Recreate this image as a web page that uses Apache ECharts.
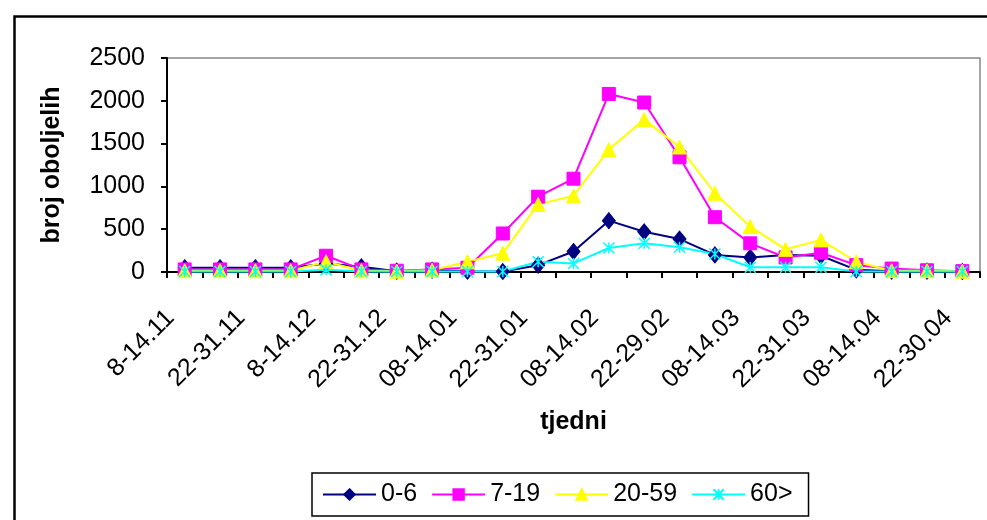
<!DOCTYPE html>
<html>
<head>
<meta charset="utf-8">
<script src="https://cdn.jsdelivr.net/npm/echarts@6/dist/echarts.min.js"></script>
<style>
html,body{margin:0;padding:0;background:#fff;}
#chart{width:987px;height:520px;}
</style>
</head>
<body>
<div id="chart"></div>
<script>
var weeks = ["8-14.11","15-21.11","22-31.11","1-7.12","8-14.12","15-21.12","22-31.12","01-07.01","08-14.01","15-21.01","22-31.01","01-07.02","08-14.02","15-21.02","22-29.02","01-07.03","08-14.03","15-21.03","22-31.03","01-07.04","08-14.04","15-21.04","22-30.04"];
var age0_6   = [50,50,50,50,100,60,10,20,10,5,80,240,600,470,385,200,170,200,190,25,10,10,5];
var age7_19  = [30,30,30,30,190,30,15,30,50,450,880,1090,2080,1980,1340,640,335,170,225,80,40,20,10];
var age20_59 = [15,15,15,15,120,15,10,20,120,220,790,890,1430,1780,1460,920,530,265,375,120,15,15,10];
var age60    = [5,5,5,5,25,5,5,5,5,5,120,100,280,335,290,210,55,55,55,5,5,5,5];
var seriesNames = ["0-6","7-19","20-59","60>"];
var yTicks = {min:0, max:2500, interval:500};

var FONT = 'Liberation Sans, Arial, sans-serif';
var chart = echarts.init(document.getElementById('chart'), null, {renderer:'canvas'});
var starPath = 'path://M0,0L10,10M10,0L0,10M5,0L5,10';

function mkSeries(name, data, color, symbol, size, extra) {
  var s = {
    name: name, type: 'line', data: data,
    symbol: symbol, symbolSize: size, showSymbol: true,
    lineStyle: {color: color, width: 2},
    itemStyle: {color: color, borderColor: color, borderWidth: 1},
    animation: false, z: 3
  };
  if (extra) Object.assign(s, extra);
  return s;
}

var option = {
  backgroundColor: '#fff',
  animation: false,
  graphic: [{
    type: 'rect', left: 12, top: 14, z: -10, silent: true,
    shape: {x:0, y:0, width: 1000, height: 540},
    style: {fill: 'none', stroke: '#000', lineWidth: 2.5}
  }],
  grid: {left: 167, top: 58, right: 7, bottom: 248, show: true, borderColor: '#888', borderWidth: 1.5, backgroundColor: 'transparent'},
  legend: {
    left: 312, top: 473,
    padding: [9, 16, 9, 10],
    borderColor: '#000', borderWidth: 1.5,
    itemWidth: 53, itemHeight: 13, itemGap: 14,
    textStyle: {fontFamily: FONT, fontSize: 25, color: '#000'},
    data: seriesNames
  },
  xAxis: {
    type: 'category', data: weeks, boundaryGap: true,
    name: 'tjedni', nameLocation: 'middle', nameGap: 138,
    nameTextStyle: {fontFamily: FONT, fontSize: 25, fontWeight: 'bold', color: '#000'},
    axisLine: {lineStyle: {color: '#000', width: 2}},
    axisTick: {show: true, interval: 0, length: 6, lineStyle: {color: '#000', width: 2}},
    axisLabel: {interval: 1, rotate: 45, margin: 28, padding: [0, 20, 0, 0], fontFamily: FONT, fontSize: 25, color: '#000'},
    splitLine: {show: false}
  },
  yAxis: {
    type: 'value', min: yTicks.min, max: yTicks.max, interval: yTicks.interval,
    name: 'broj oboljelih', nameLocation: 'middle', nameGap: 102, nameRotate: 90,
    nameTextStyle: {fontFamily: FONT, fontSize: 25, fontWeight: 'bold', color: '#000'},
    axisLine: {show: true, lineStyle: {color: '#000', width: 2}},
    axisTick: {show: true, length: 6, lineStyle: {color: '#000', width: 2}},
    axisLabel: {margin: 22, fontFamily: FONT, fontSize: 25, color: '#000', formatter: function (v) { return String(v); }},
    splitLine: {show: false}
  },
  series: [
    mkSeries(seriesNames[0], age0_6, '#000080', 'diamond', [13, 16]),
    mkSeries(seriesNames[1], age7_19, '#FF00FF', 'rect', 13),
    mkSeries(seriesNames[2], age20_59, '#FFFF00', 'triangle', 14),
    mkSeries(seriesNames[3], age60, '#00FFFF', starPath, 11, {itemStyle: {color: 'none', borderColor: '#00FFFF', borderWidth: 1.5}})
  ]
};
chart.setOption(option);
</script>
</body>
</html>
